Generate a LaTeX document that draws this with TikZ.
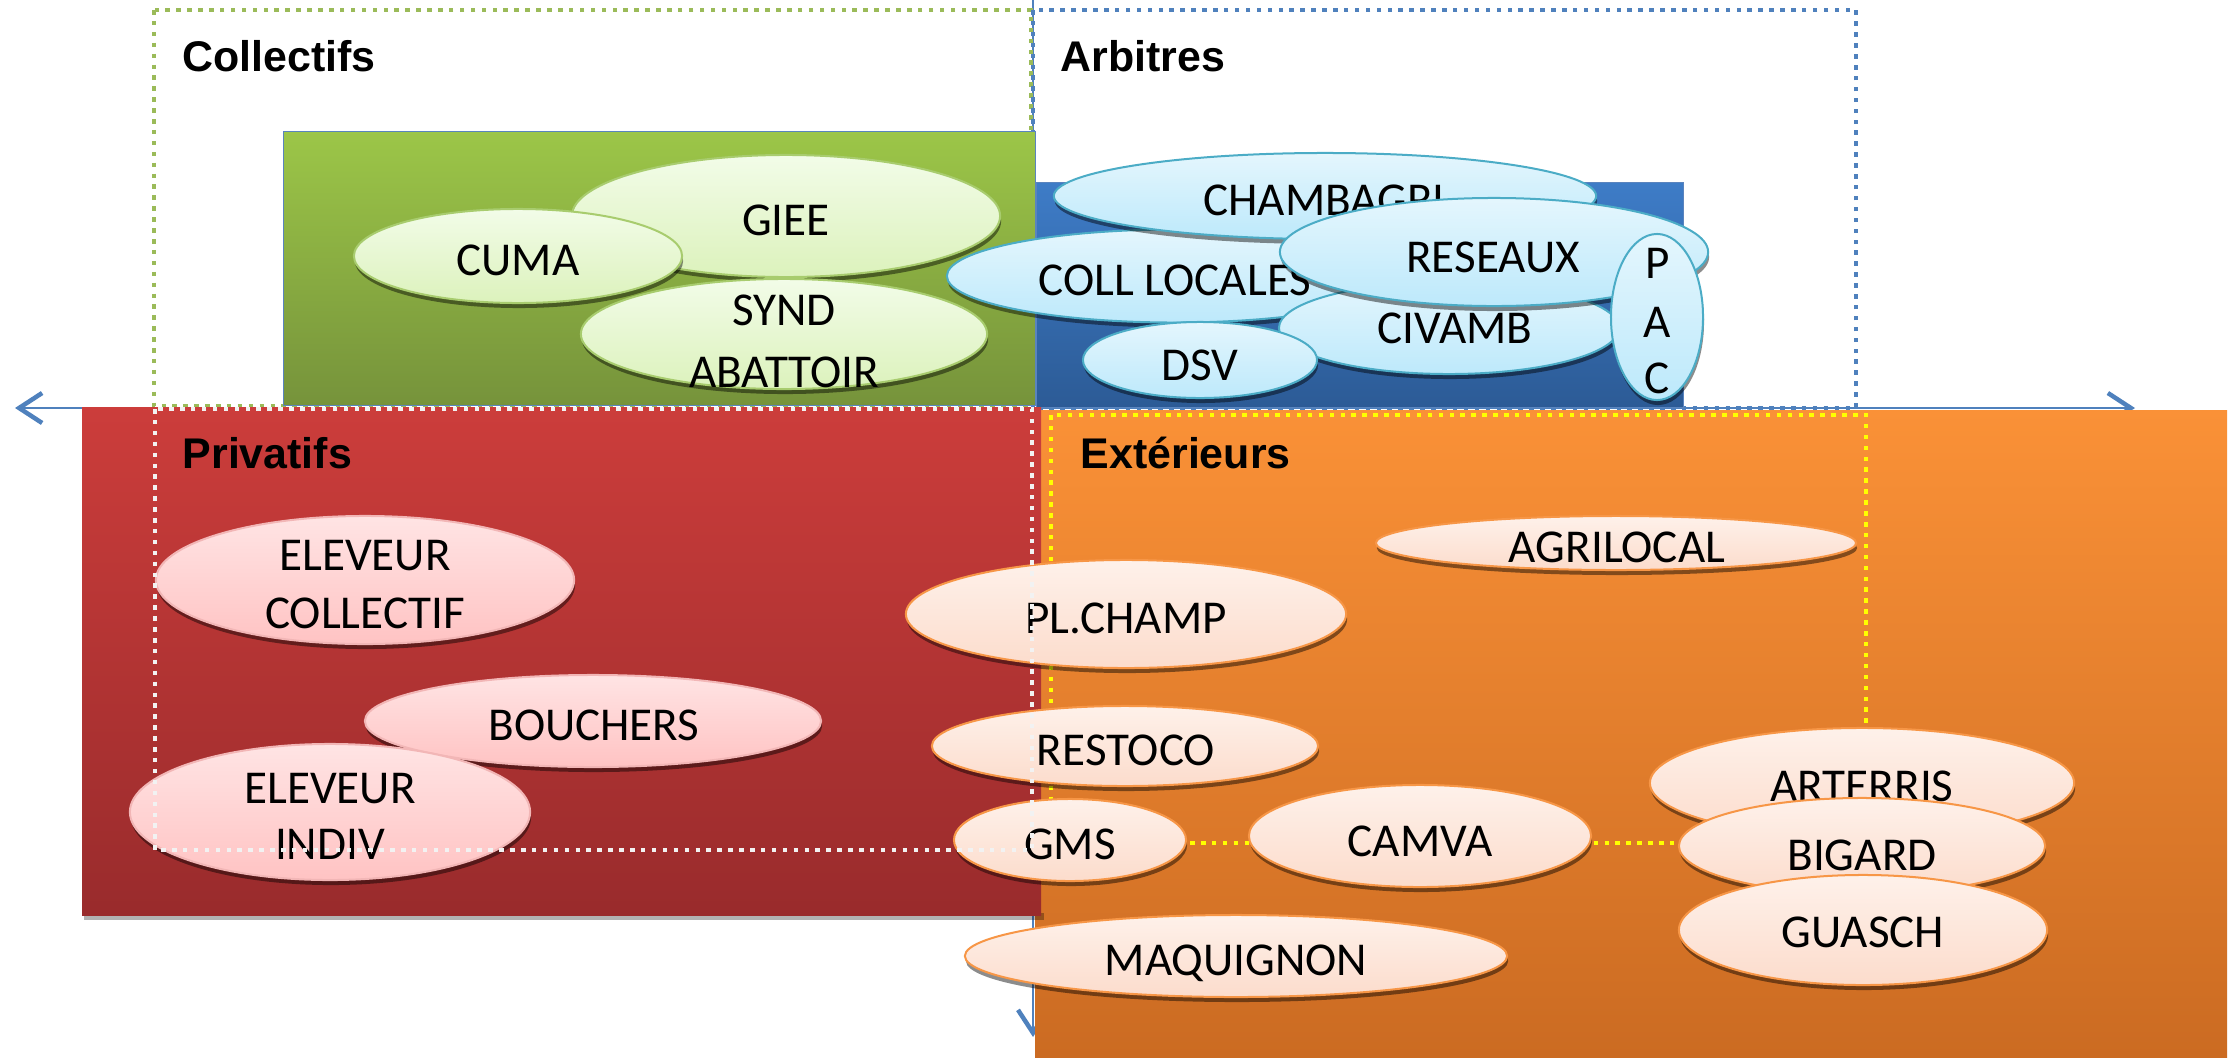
\documentclass[tikz,border=0pt]{standalone}
\usepackage{fontspec}
\setmainfont{Carlito}
\newfontfamily\lblfont{Liberation Sans}
\usetikzlibrary{shapes.geometric,shadows,arrows.meta}
\definecolor{axisblue}{HTML}{4F81BD}
\definecolor{dotgreen}{HTML}{9BBB59}
\definecolor{dotblue}{HTML}{4F81BD}
\definecolor{dotyellow}{HTML}{FFFF00}
\definecolor{dotwhite}{HTML}{F2F2F2}
\definecolor{greentop}{HTML}{9CC648}
\definecolor{greenbot}{HTML}{76933B}
\definecolor{bluetop}{HTML}{3E7CC7}
\definecolor{bluebot}{HTML}{2C5B96}
\definecolor{redtop}{HTML}{CC3D3B}
\definecolor{redbot}{HTML}{992B2C}
\definecolor{orangetop}{HTML}{FA9137}
\definecolor{orangebot}{HTML}{CB6B22}
\definecolor{rectline}{HTML}{5A84BE}
\definecolor{gelltop}{HTML}{F2FCE8}
\definecolor{gellbot}{HTML}{DCF2BC}
\definecolor{gellline}{HTML}{A8CC6E}
\definecolor{belltop}{HTML}{E4F6FD}
\definecolor{bellbot}{HTML}{BDE9FB}
\definecolor{bellline}{HTML}{4BACC6}
\definecolor{relltop}{HTML}{FFE4E4}
\definecolor{rellbot}{HTML}{FFC3C3}
\definecolor{rellline}{HTML}{F2B6B6}
\definecolor{oelltop}{HTML}{FEF1EA}
\definecolor{oellbot}{HTML}{FCDCCC}
\definecolor{oellline}{HTML}{F79646}
\tikzset{
  zonerect/.style={draw=rectline, line width=0.006cm},
  dotrect/.style={line width=0.045cm, dash pattern=on 0.045cm off 0.064cm},
  ellbase/.style={ellipse, inner sep=0pt, line width=0.02cm,
    drop shadow={shadow xshift=0.01cm, shadow yshift=-0.05cm, opacity=0.45, fill=black}},
  gell/.style={ellbase, draw=gellline, top color=gelltop, bottom color=gellbot},
  bell/.style={ellbase, draw=bellline, top color=belltop, bottom color=bellbot},
  rell/.style={ellbase, draw=rellline, top color=relltop, bottom color=rellbot},
  oell/.style={ellbase, draw=oellline, top color=oelltop, bottom color=oellbot},
  etxt/.style={inner sep=0pt, text height=0.303cm, text depth=0cm, font=\fontsize{13.4}{16}\selectfont},
  lbl/.style={anchor=west, inner sep=0pt, text height=0.31cm, text depth=0cm, font=\lblfont\bfseries\fontsize{12.2}{14}\selectfont},
  axisline/.style={draw=axisblue, line width=0.02cm},
}
\begin{document}
\begin{tikzpicture}[x=0.01cm,y=-0.01cm]
\useasboundingbox (0,0) rectangle (2236,1057);
% axes
\coordinate (hl) at (15,408);
\coordinate (hr) at (2135,408);
\coordinate (vt) at (1033,0);
\coordinate (vb) at (1033,1037);
\draw[axisline, {Straight Barb[length=0.23cm,width=0.3cm,line width=0.045cm]}-{Straight Barb[length=0.23cm,width=0.3cm,line width=0.045cm]}] (hl) -- (hr);
\draw[axisline, -{Straight Barb[length=0.23cm,width=0.3cm,line width=0.045cm]}] (vt) -- (vb);
% dotted frames (under fills)
\draw[dotrect, draw=dotgreen] (154,10) rectangle (1031,406);
\draw[dotrect, draw=dotblue] (1033,10) rectangle (1856,408);
% filled zones
\shade[zonerect, top color=greentop, bottom color=greenbot] (283,131) rectangle (1035,405);
\shade[zonerect, top color=bluetop, bottom color=bluebot] (1036,182) rectangle (1683,407);
\shade[top color=orangetop, bottom color=orangebot] (1035,410) rectangle (2227,1057);
\fill[black, opacity=0.3] (84,913) rectangle (1044,920);
\shade[top color=redtop, bottom color=redbot] (82,407) rectangle (1041,915);
\draw[dotrect, draw=dotyellow] (1051,415) rectangle (1866,843);
% labels
\node[lbl] (lcoll) at (182,56) {Collectifs};
\node[lbl] (larb) at (1060,56) {Arbitres};
\node[lbl] (lpriv) at (182,453) {Privatifs};
\node[lbl] (lext) at (1080,453) {Extérieurs};
% green ellipses
\node[gell, minimum width=4.28cm, minimum height=1.22cm] (giee) at (786,216) {};
\node[etxt] (gieet) at (786,220) {GIEE};
\node[gell, minimum width=3.28cm, minimum height=0.94cm] (cuma) at (518,256) {};
\node[etxt] (cumat) at (518,260) {CUMA};
\node[gell, minimum width=4.06cm, minimum height=1.10cm] (synd) at (784,334) {};
\node[etxt] (syndt1) at (784,310) {SYND};
\node[etxt] (syndt2) at (784,372) {ABATTOIR};
% blue ellipses
\node[bell, minimum width=4.56cm, minimum height=0.93cm] (coll) at (1175,276) {};
\node[etxt] (collt) at (1175,280) {COLL LOCALES};
\node[bell, minimum width=5.42cm, minimum height=0.86cm] (chamb) at (1325,196) {};
\node[etxt] (chambt) at (1324,200) {CHAMBAGRI};
\node[bell, minimum width=3.40cm, minimum height=0.92cm] (civamb) at (1449,328) {};
\node[etxt] (civambt) at (1455,328) {CIVAMB};
\node[bell, minimum width=4.28cm, minimum height=1.08cm] (reseaux) at (1494,252) {};
\node[etxt] (reseauxt) at (1493,257) {RESEAUX};
\node[bell, minimum width=2.34cm, minimum height=0.76cm] (dsv) at (1200,360) {};
\node[etxt] (dsvt) at (1200,365) {DSV};
\node[bell, minimum width=0.92cm, minimum height=1.66cm] (pac) at (1657,317) {};
\node[etxt] (pacp) at (1658,263) {P};
\node[etxt] (paca) at (1657,322) {A};
\node[etxt] (pacc) at (1657,378) {C};
% pink ellipses
\node[rell, minimum width=4.18cm, minimum height=1.28cm] (elc) at (365,580) {};
\node[etxt] (elct1) at (365,555) {ELEVEUR};
\node[etxt] (elct2) at (365,613) {COLLECTIF};
\node[rell, minimum width=4.56cm, minimum height=0.92cm] (bouch) at (593,721) {};
\node[etxt] (boucht) at (594,725) {BOUCHERS};
\node[rell, minimum width=4.00cm, minimum height=1.36cm] (eli) at (330,812) {};
\node[etxt] (elit1) at (330,788) {ELEVEUR};
\node[etxt] (elit2) at (330,844) {INDIV};
% peach ellipses
\node[oell, minimum width=4.80cm, minimum height=0.54cm] (agri) at (1616,543) {};
\node[etxt] (agrit) at (1617,547) {AGRILOCAL};
\node[oell, minimum width=4.40cm, minimum height=1.08cm] (plch) at (1126,614) {};
\node[etxt] (plcht) at (1126,618) {PL.CHAMP};
\node[oell, minimum width=3.86cm, minimum height=0.80cm] (resto) at (1125,746) {};
\node[etxt] (restot) at (1126,750) {RESTOCO};
\node[oell, minimum width=2.32cm, minimum height=0.82cm] (gms) at (1070,840) {};
\node[etxt] (gmst) at (1070,844) {GMS};
\node[oell, minimum width=3.42cm, minimum height=1.02cm] (camva) at (1420,836) {};
\node[etxt] (camvat) at (1420,841) {CAMVA};
\node[oell, minimum width=4.24cm, minimum height=1.10cm] (arter) at (1862,783) {};
\node[etxt] (artert) at (1862,786) {ARTERRIS};
\node[oell, minimum width=3.66cm, minimum height=0.96cm] (bigard) at (1862,846) {};
\node[etxt] (bigardt) at (1862,855) {BIGARD};
\node[oell, minimum width=3.68cm, minimum height=1.10cm] (guasch) at (1863,930) {};
\node[etxt] (guascht) at (1863,932) {GUASCH};
\node[oell, minimum width=5.42cm, minimum height=0.82cm] (maq) at (1236,956) {};
\node[etxt] (maqt) at (1236,960) {MAQUIGNON};
% white dotted frame on top
\draw[dotrect, draw=dotwhite] (155,409) rectangle (1032,850);
\end{tikzpicture}
\end{document}
